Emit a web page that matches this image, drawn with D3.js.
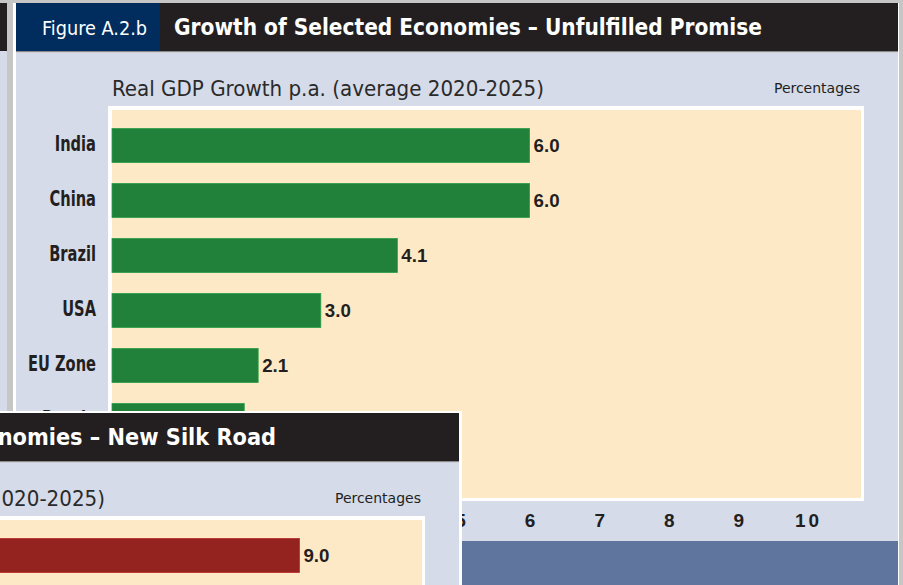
<!DOCTYPE html>
<html>
<head>
<meta charset="utf-8">
<script src="https://cdn.jsdelivr.net/npm/d3@7"></script>
<style>
  body { margin: 0; background: #c6c6c6; }
  svg { display: block; }
  .cond { font-family: "Liberation Sans Narrow", "DejaVu Sans Condensed", "Roboto Condensed", sans-serif; }
  .plain { font-family: "Liberation Sans", Arial, sans-serif; }
</style>
</head>
<body>
<script>
// data
let categories = ["India", "China", "Brazil", "USA", "EU Zone", "Russia", "Japan"];
let growth = [6.0, 6.0, 4.1, 3.0, 2.1, 1.9, 0.8];
let silkCategories = ["China"];
let silkGrowth = [9.0];
let tickValues = [0, 1, 2, 3, 4, 5, 6, 7, 8, 9, 10];

let svg = d3.select("body").append("svg").attr("width", 903).attr("height", 585);
svg.append("rect").attr("width", 903).attr("height", 585).attr("fill", "#c6c6c6");

// sliver of the previous panel on the far left
svg.append("rect").attr("x", -20).attr("y", 3).attr("width", 27).attr("height", 48).attr("fill", "#231f20");
svg.append("rect").attr("x", -20).attr("y", 51).attr("width", 27).attr("height", 540).attr("fill", "#d5dbe9");

function drawPanel(g, fig, title, titleX, titleWidth, cats, vals, barColor, frameTop) {
    // white frame
    g.append("rect").attr("x", 13).attr("y", frameTop ? 1 : 3).attr("width", 888).attr("height", 700).attr("fill", "#ffffff");
    // header
    g.append("rect").attr("x", 16).attr("y", 3).attr("width", 144).attr("height", 48).attr("fill", "#002d5e");
    g.append("rect").attr("x", 160).attr("y", 3).attr("width", 738).attr("height", 48).attr("fill", "#231f20");
    g.append("rect").attr("x", 16).attr("y", 51).attr("width", 882).attr("height", 1.5).attr("fill", "#8a8a8a");
    g.append("rect").attr("x", 16).attr("y", 52.5).attr("width", 882).attr("height", 489).attr("fill", "#d5dbe9");
    g.append("rect").attr("x", 16).attr("y", 541).attr("width", 882).attr("height", 200).attr("fill", "#5f759e");

    g.append("text").attr("class", "cond").attr("x", 42).attr("y", 35).attr("fill", "#ffffff")
        .attr("font-size", 20).attr("textLength", 105).attr("lengthAdjust", "spacingAndGlyphs").text(fig);
    g.append("text").attr("class", "cond").attr("x", titleX).attr("y", 35).attr("fill", "#ffffff")
        .attr("font-size", 23).attr("font-weight", "bold")
        .attr("textLength", titleWidth).attr("lengthAdjust", "spacingAndGlyphs").text(title);

    g.append("text").attr("class", "cond").attr("x", 112).attr("y", 96).attr("fill", "#2a2a2a")
        .attr("font-size", 21).attr("textLength", 432).attr("lengthAdjust", "spacingAndGlyphs")
        .text("Real GDP Growth p.a. (average 2020-2025)");
    g.append("text").attr("class", "cond").attr("x", 860).attr("y", 93).attr("text-anchor", "end").attr("fill", "#231f20")
        .attr("font-size", 14).attr("textLength", 86).attr("lengthAdjust", "spacingAndGlyphs").text("Percentages");

    // plot area
    g.append("rect").attr("x", 108).attr("y", 106).attr("width", 756).attr("height", 395).attr("fill", "#ffffff");
    g.append("rect").attr("x", 112).attr("y", 110).attr("width", 749).attr("height", 388).attr("fill", "#fee9c6");

    let x = d3.scaleLinear().domain([0, 10]).range([112, 808]);
    let y = d3.scaleBand().domain(cats).range([118, 118 + cats.length * 55]).paddingInner(0.382).paddingOuter(0.191);

    g.selectAll("rect.bar").data(vals).enter().append("rect").attr("class", "bar")
        .attr("x", x(0)).attr("y", function(d, i) {
            return y(cats[i]);
        }).attr("width", function(d) {
            return x(d) - x(0);
        }).attr("height", y.bandwidth()).attr("fill", barColor)
        .attr("stroke", d3.color(barColor).brighter(0.6)).attr("stroke-width", 0.8);

    g.selectAll("text.val").data(vals).enter().append("text").attr("class", "val plain")
        .attr("x", function(d) {
            return x(d) + 4;
        }).attr("y", function(d, i) {
            return y(cats[i]) + y.bandwidth() / 2 + 6.5;
        }).attr("font-size", 17.5).attr("font-weight", "bold").attr("fill", "#231f20")
        .attr("textLength", 26).attr("lengthAdjust", "spacingAndGlyphs")
        .text(function(d) {
            return d.toFixed(1);
        });

    // condensed category labels, squeezed horizontally
    g.selectAll("text.cat").data(cats).enter().append("text").attr("class", "cat cond")
        .attr("transform", function(d) {
            return "translate(96," + (y(d) + y.bandwidth() / 2 + 5) + ") scale(0.74,1)";
        }).attr("text-anchor", "end").attr("font-size", 22).attr("font-weight", "bold").attr("fill", "#231f20")
        .text(function(d) {
            return d;
        });

    // x axis labels
    let axis = d3.axisBottom(x).tickValues(tickValues).tickSize(0).tickPadding(0);
    let ax = g.append("g").attr("transform", "translate(0,512)").call(axis);
    ax.select(".domain").remove();
    ax.selectAll("text").attr("class", "plain").attr("font-size", 19).attr("font-weight", "bold")
        .attr("fill", "#231f20").attr("dy", "0.78em")
        .attr("letter-spacing", function(d) {
            return d >= 10 ? 3 : 0;
        });
}

let main = svg.append("g");
drawPanel(main, "Figure A.2.b", "Growth of Selected Economies \u2013 Unfulfilled Promise", 174, 588, categories, growth, "#21803a", false);

let silk = svg.append("g").attr("transform", "translate(-439,410)");
drawPanel(silk, "Figure A.2.c", "Growth of Selected Economies \u2013 New Silk Road", 162, 553, silkCategories, silkGrowth, "#94231f", true);

// grey strips on the right and top edges
svg.append("rect").attr("x", 899).attr("y", 0).attr("width", 4).attr("height", 585).attr("fill", "#c6c6c6");
svg.append("rect").attr("x", 0).attr("y", 0).attr("width", 903).attr("height", 3).attr("fill", "#c6c6c6");
</script>
</body>
</html>
